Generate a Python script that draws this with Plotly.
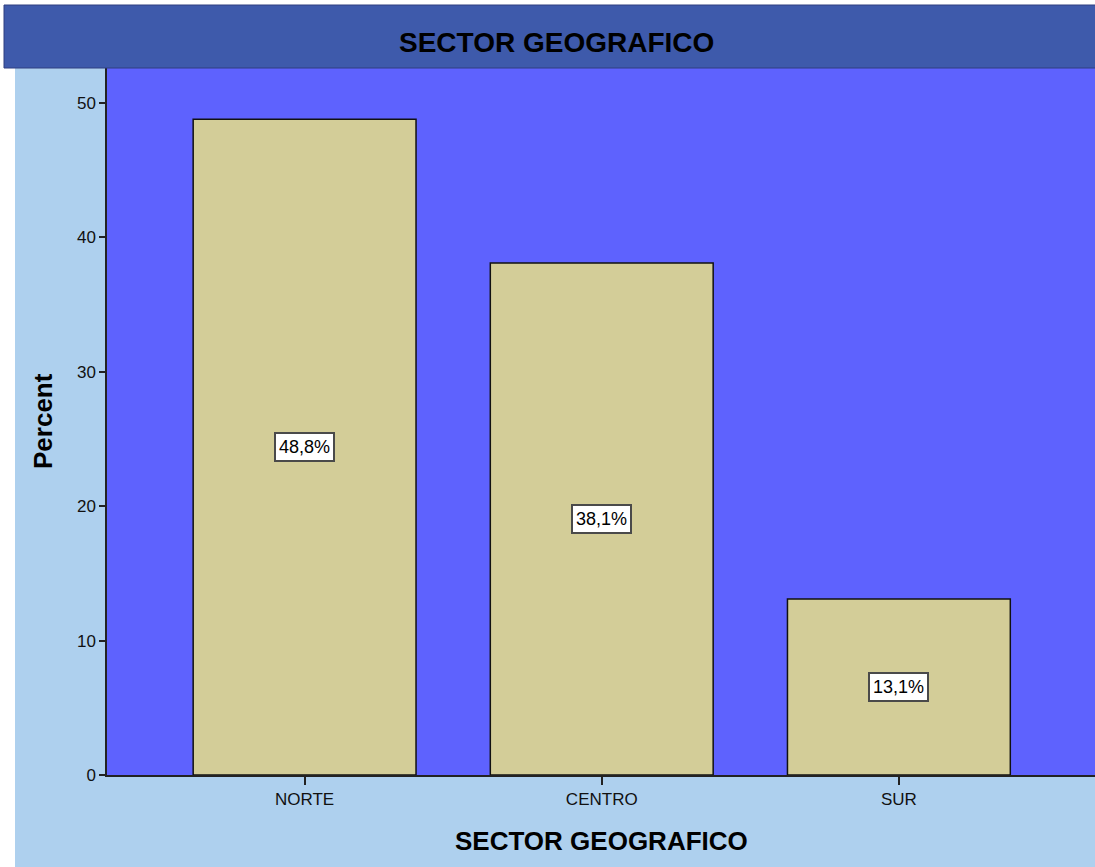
import plotly.graph_objects as go

categories = ["NORTE", "CENTRO", "SUR"]
percents = [48.8, 38.1, 13.1]
y_ticks = [0, 10, 20, 30, 40, 50]
title_text = "SECTOR GEOGRAFICO"
x_title = "SECTOR GEOGRAFICO"
y_title = "Percent"

W, H = 1095, 867
L, R, T, B = 107, 0, 68, 92
pw, ph = W - L - R, H - T - B

def px_x(px):
    return (px - L) / pw

def px_y(py):
    return (H - B - py) / ph

FONT = "Liberation Sans, Arial, sans-serif"

fig = go.Figure()
fig.add_trace(go.Bar(
    x=categories, y=percents, width=0.75,
    marker=dict(color="#D3CD98", line=dict(color="#111111", width=1.5)),
    hoverinfo="skip",
))

annotations = []
for c, v in zip(categories, percents):
    annotations.append(dict(
        x=c, y=v / 2, xref="x", yref="y",
        text=f"{v:.1f}".replace(".", ",") + "%",
        showarrow=False, bgcolor="white", bordercolor="#4A4A4A",
        borderwidth=2, borderpad=3,
        font=dict(family=FONT, size=18, color="black"),
    ))
annotations.append(dict(
    x=px_x(556), y=px_y(42), xref="paper", yref="paper",
    xanchor="center", yanchor="middle",
    text=f"<b>{title_text}</b>", showarrow=False,
    font=dict(family=FONT, size=28, color="black"),
))
annotations.append(dict(
    x=px_x(42.5), y=0.5, xref="paper", yref="paper",
    xanchor="center", yanchor="middle", textangle=-90,
    text=f"<b>{y_title}</b>", showarrow=False,
    font=dict(family=FONT, size=26, color="black"),
))
annotations.append(dict(
    x=0.5, y=px_y(841), xref="paper", yref="paper",
    xanchor="center", yanchor="middle",
    text=f"<b>{x_title}</b>", showarrow=False,
    font=dict(family=FONT, size=26, color="black"),
))

shapes = [
    dict(type="rect", xref="paper", yref="paper", x0=px_x(0), x1=px_x(15),
         y0=px_y(H), y1=px_y(0), fillcolor="white", line_width=0, layer="above"),
    dict(type="rect", xref="paper", yref="paper", x0=px_x(0), x1=px_x(W),
         y0=px_y(5), y1=px_y(0), fillcolor="white", line_width=0, layer="above"),
    dict(type="rect", xref="paper", yref="paper", x0=px_x(4), x1=px_x(W + 2),
         y0=px_y(68), y1=px_y(5), fillcolor="#3E5AAB", layer="above",
         line=dict(color="#2E3F80", width=1)),
]

fig.update_layout(
    width=W, height=H,
    margin=dict(l=L, r=R, t=T, b=B, autoexpand=False),
    paper_bgcolor="#AED0EE", plot_bgcolor="#5E62FE",
    showlegend=False, bargap=0.25,
    annotations=annotations, shapes=shapes,
    xaxis=dict(
        range=[-0.665, 2.66], showgrid=False, zeroline=False,
        showline=True, linecolor="#222222", linewidth=1.5,
        ticks="outside", ticklen=8, tickwidth=1.5, tickcolor="#222222",
        tickfont=dict(family=FONT, size=17, color="#111111"),
    ),
    yaxis=dict(
        range=[0, (H - B - T) / 13.44], showgrid=False, zeroline=False,
        tickvals=y_ticks, ticktext=[str(t) for t in y_ticks],
        showline=True, linecolor="#222222", linewidth=1.5,
        ticks="outside", ticklen=6, tickwidth=1.5, tickcolor="#222222",
        tickfont=dict(family=FONT, size=17, color="#111111"),
    ),
)

fig.write_html(
    "out.html",
    config={"displayModeBar": False},
    post_script="document.body.style.margin='0px';document.body.style.overflow='hidden';",
)
